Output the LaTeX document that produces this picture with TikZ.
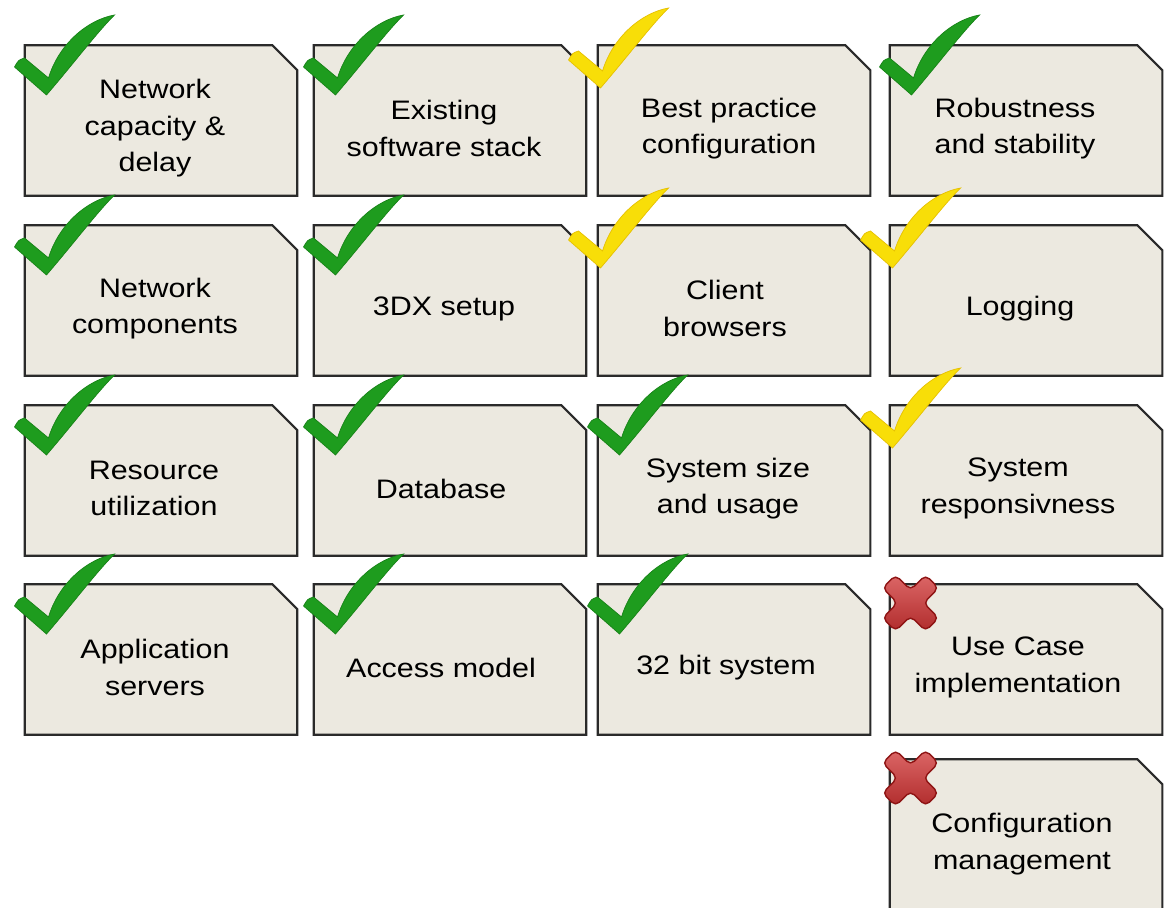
\documentclass[tikz,border=0pt]{standalone}
\usepackage{fontspec}
\setmainfont[FakeStretch=1.14]{Liberation Sans}
\definecolor{boxfill}{HTML}{ECE9E0}
\definecolor{boxline}{HTML}{2A2A2A}
\definecolor{okgreen}{HTML}{1E9C1E}
\definecolor{okgreendark}{HTML}{178217}
\definecolor{warnyellow}{HTML}{F8DE08}
\definecolor{warnyellowdark}{HTML}{E6C000}
\definecolor{failred}{HTML}{D03434}
\definecolor{failreddark}{HTML}{8E1414}
\tikzset{
  boxedge/.style={draw=boxline, fill=boxfill, line width=0.6pt},
  box/.style={rectangle, minimum width=2.71cm, minimum height=1.49cm, inner sep=0pt,
    append after command={\pgfextra{\filldraw[boxedge] (\tikzlastnode.north west)
      -- ([xshift=-0.25cm]\tikzlastnode.north east) -- ([yshift=-0.25cm]\tikzlastnode.north east)
      -- (\tikzlastnode.south east) -- (\tikzlastnode.south west) -- cycle;}}},
  lbl/.style={align=center, font=\fontsize{7.6}{10.4}\selectfont},
  goodtick/.style={fill=okgreen, draw=okgreendark, line width=0.2pt},
  halftick/.style={fill=warnyellow, draw=warnyellowdark, line width=0.2pt},
  pics/tick/.style={code={
    \filldraw[#1] (0,0) .. controls (30,-35) and (50,-62) .. (68,-80)
      .. controls (40,-75) and (12,-50) .. (2,-17) -- (-22,-37)
      .. controls (-28,-35) .. (-32,-28) -- cycle;}},
  pics/cross/.style={code={
    \path[draw=failreddark, line width=0.4pt, rounded corners=1.5,
      top color=failred!75!white, bottom color=failred!85!black]
      (0,-13) -- (15,-28) -- (28,-15) -- (13,0) -- (28,15) -- (15,28)
      -- (0,13) -- (-15,28) -- (-28,15) -- (-13,0) -- (-28,-15) -- (-15,-28) -- cycle;}}
}
\begin{document}
\begin{tikzpicture}[x=0.01cm,y=-0.01cm]
  \useasboundingbox (0,0) rectangle (1165,907);
  % boxes
  \node[box] (netcap) at (161,120.5) {};
  \node[box] (swstack) at (450,120.5) {};
  \node[box] (bestpr) at (734,120.5) {};
  \node[box] (robust) at (1026,120.5) {};
  \node[box] (netcomp) at (161,300.5) {};
  \node[box] (setup) at (450,300.5) {};
  \node[box] (browser) at (734,300.5) {};
  \node[box] (logging) at (1026,300.5) {};
  \node[box] (resource) at (161,480.5) {};
  \node[box] (database) at (450,480.5) {};
  \node[box] (syssize) at (734,480.5) {};
  \node[box] (respons) at (1026,480.5) {};
  \node[box] (appsrv) at (161,659.5) {};
  \node[box] (access) at (450,659.5) {};
  \node[box] (bit32) at (734,659.5) {};
  \node[box] (usecase) at (1026,659.5) {};
  \node[box,minimum height=1.52cm] (confmgmt) at (1026,836) {};
  % labels
  \node[lbl] (netcap-l) at ([shift={(-6,8)}]netcap.center) {Network\\capacity \&\\delay};
  \node[lbl] (swstack-l) at ([shift={(-6,8)}]swstack.center) {Existing\\software stack};
  \node[lbl] (bestpr-l) at ([shift={(-5,8)}]bestpr.center) {Best practice\\configuration};
  \node[lbl] (robust-l) at ([shift={(-11,8)}]robust.center) {Robustness\\and stability};
  \node[lbl] (netcomp-l) at ([shift={(-6,8)}]netcomp.center) {Network\\components};
  \node[lbl] (setup-l) at ([shift={(-6,8)}]setup.center) {3DX setup};
  \node[lbl] (browser-l) at ([shift={(-9,8)}]browser.center) {Client\\browsers};
  \node[lbl] (logging-l) at ([shift={(-6,8)}]logging.center) {Logging};
  \node[lbl] (resource-l) at ([shift={(-7,8)}]resource.center) {Resource\\utilization};
  \node[lbl] (database-l) at ([shift={(-9,8)}]database.center) {Database};
  \node[lbl] (syssize-l) at ([shift={(-6,8)}]syssize.center) {System size\\and usage};
  \node[lbl] (respons-l) at ([shift={(-8,8)}]respons.center) {System\\responsivness};
  \node[lbl] (appsrv-l) at ([shift={(-6,8)}]appsrv.center) {Application\\servers};
  \node[lbl] (access-l) at ([shift={(-9,8)}]access.center) {Access model};
  \node[lbl] (bit32-l) at ([shift={(-8,8)}]bit32.center) {32 bit system};
  \node[lbl] (usecase-l) at ([shift={(-8,8)}]usecase.center) {Use Case\\implementation};
  \node[lbl] (confmgmt-l) at ([shift={(-4,8)}]confmgmt.center) {Configuration\\management};
  % status marks
  \pic at ([shift={(-114.5,-25.5)}]netcap.center) {tick=goodtick};
  \pic at ([shift={(-114.5,-25.5)}]swstack.center) {tick=goodtick};
  \pic at ([shift={(-133.5,-32.5)}]bestpr.center) {tick=halftick};
  \pic at ([shift={(-114.5,-25.5)}]robust.center) {tick=goodtick};
  \pic at ([shift={(-114.5,-25.5)}]netcomp.center) {tick=goodtick};
  \pic at ([shift={(-114.5,-25.5)}]setup.center) {tick=goodtick};
  \pic at ([shift={(-133.5,-32.5)}]browser.center) {tick=halftick};
  \pic at ([shift={(-133.5,-32.5)}]logging.center) {tick=halftick};
  \pic at ([shift={(-114.5,-25.5)}]resource.center) {tick=goodtick};
  \pic at ([shift={(-114.5,-25.5)}]database.center) {tick=goodtick};
  \pic at ([shift={(-114.5,-25.5)}]syssize.center) {tick=goodtick};
  \pic at ([shift={(-133.5,-32.5)}]respons.center) {tick=halftick};
  \pic at ([shift={(-114.5,-25.5)}]appsrv.center) {tick=goodtick};
  \pic at ([shift={(-114.5,-25.5)}]access.center) {tick=goodtick};
  \pic at ([shift={(-114.5,-25.5)}]bit32.center) {tick=goodtick};
  \pic at ([shift={(-115.5,-56.5)}]usecase.center) {cross};
  \pic at ([shift={(-115.5,-58)}]confmgmt.center) {cross};
\end{tikzpicture}
\end{document}
